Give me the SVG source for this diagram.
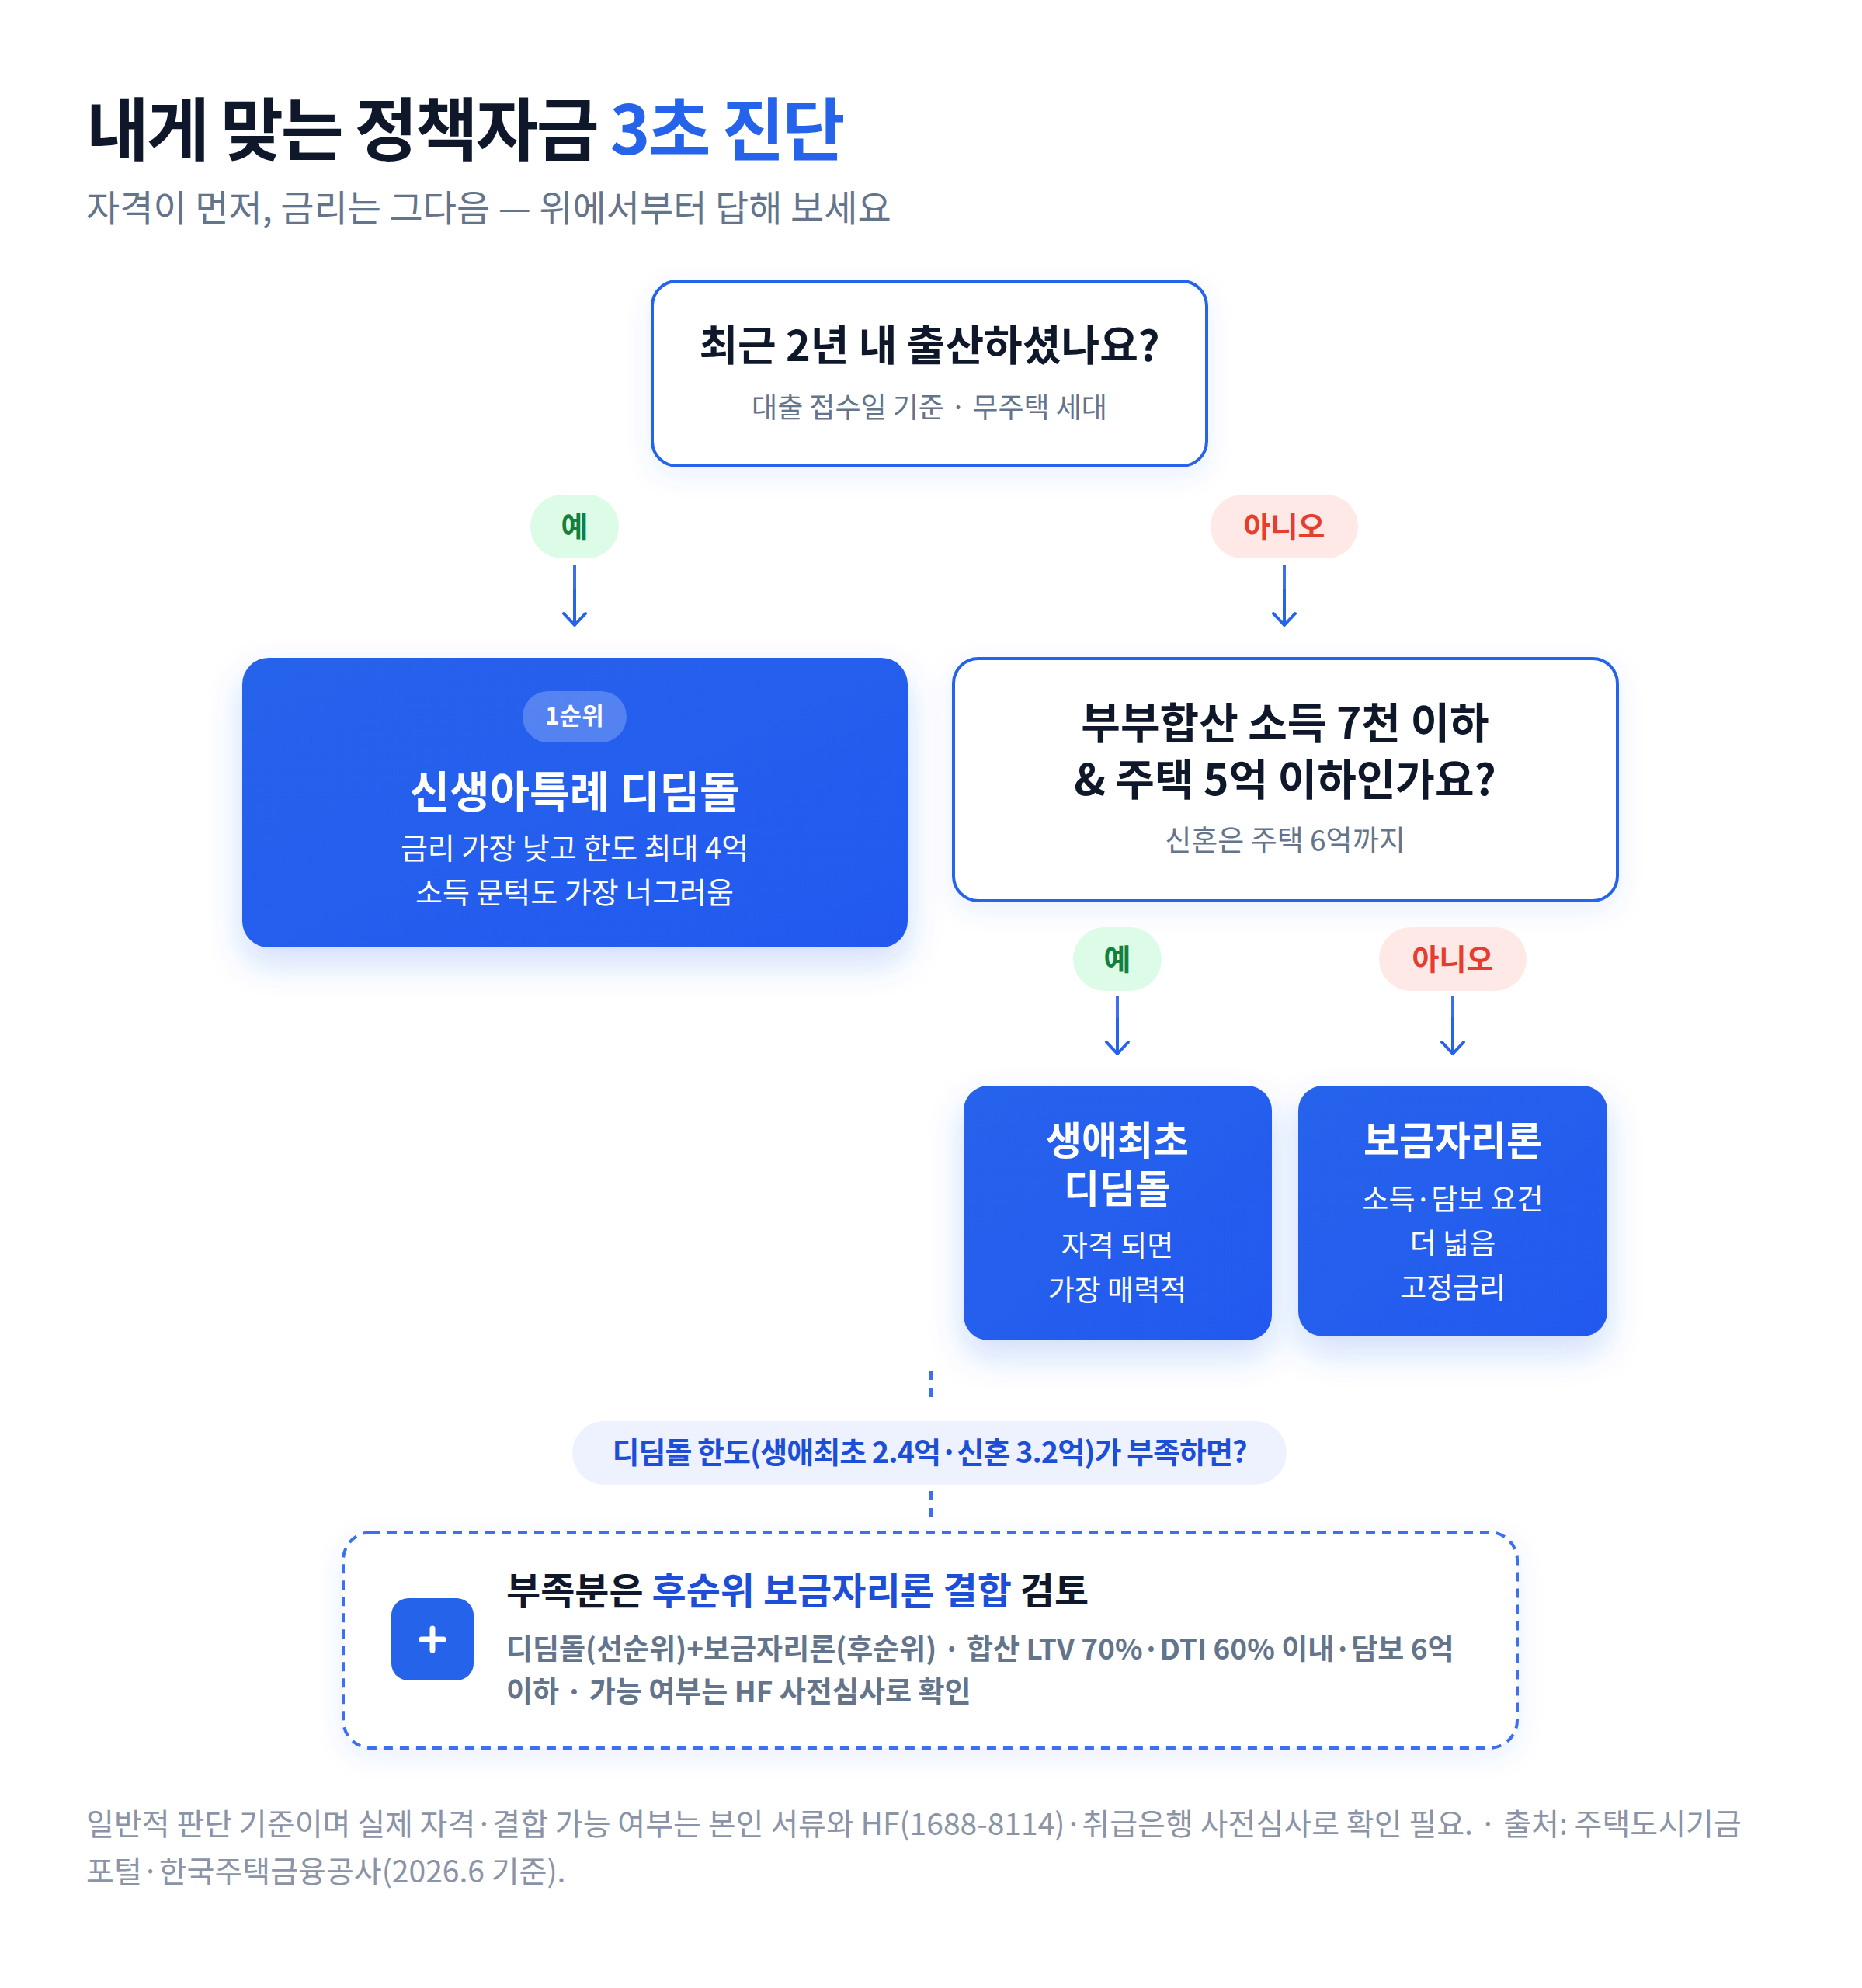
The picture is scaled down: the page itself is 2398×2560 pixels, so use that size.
<svg xmlns="http://www.w3.org/2000/svg" width="2398" height="2560" viewBox="0 0 2398 2560">
<defs>
<style>
text{font-family:"Noto Sans CJK KR","Noto Sans",sans-serif}
.dk{fill:#0F172A;font-weight:700}
.g{fill:#64748B}
.w{fill:#fff}
.c{text-anchor:middle}
.b{font-weight:700}
.conn{stroke:#3B6FF0;stroke-width:4;fill:none}
.arr{stroke:#2563EB;stroke-width:4;fill:none;stroke-linecap:round;stroke-linejoin:round}
</style>
<filter id="sh" x="-20%" y="-20%" width="140%" height="160%"><feDropShadow dx="0" dy="20" stdDeviation="22" flood-color="#2563EB" flood-opacity="0.22"/></filter>
<filter id="sh2" x="-20%" y="-20%" width="140%" height="160%"><feDropShadow dx="0" dy="10" stdDeviation="16" flood-color="#2563EB" flood-opacity="0.1"/></filter>
<linearGradient id="bg" x1="0" y1="0" x2="1" y2="1"><stop offset="0" stop-color="#2563EB"/><stop offset="1" stop-color="#2459F0"/></linearGradient>
</defs>
<rect width="2398" height="2560" fill="#fff"/>
<g id="title">
<text x="111" y="199" font-size="88" class="dk" letter-spacing="-3">내게 맞는 정책자금 <tspan fill="#2563EB">3초 진단</tspan></text>
<text x="111" y="285" font-size="47" class="g">자격이 먼저, 금리는 그다음 — 위에서부터 답해 보세요</text>
</g>
<g id="connectors">
<line class="conn" x1="740" y1="728" x2="740" y2="760"/>
<path class="arr" d="M740 760V805M726 790L740 805L754 790"/>
<line class="conn" x1="1654" y1="728" x2="1654" y2="760"/>
<path class="arr" d="M1654 760V805M1640 790L1654 805L1668 790"/>
<line class="conn" x1="1439" y1="1282" x2="1439" y2="1312"/>
<path class="arr" d="M1439 1312V1357M1425 1342L1439 1357L1453 1342"/>
<line class="conn" x1="1871" y1="1282" x2="1871" y2="1312"/>
<path class="arr" d="M1871 1312V1357M1857 1342L1871 1357L1885 1342"/>
<line class="conn" x1="1199" y1="1765" x2="1199" y2="1805" stroke-dasharray="12 10"/>
<line class="conn" x1="1199" y1="1920" x2="1199" y2="1960" stroke-dasharray="12 10"/>
</g>
<g id="q1">
<rect x="840" y="362" width="714" height="238" rx="32" fill="#fff" stroke="#2563EB" stroke-width="4" filter="url(#sh2)"/>
<text x="1197" y="465" font-size="54" class="dk c">최근 2년 내 출산하셨나요?</text>
<text x="1197" y="538" font-size="36" class="g c">대출 접수일 기준 · 무주택 세대</text>
</g>
<g id="yes1"><rect x="683" y="637" width="114" height="82" rx="41" fill="#DCFCE7"/><text x="740" y="692" font-size="38" class="c b" fill="#15803D">예</text></g>
<g id="no1"><rect x="1559" y="637" width="190" height="82" rx="41" fill="#FEE9E7"/><text x="1654" y="692" font-size="38" class="c b" fill="#E53E2E">아니오</text></g>
<g id="n1">
<rect x="312" y="847" width="857" height="373" rx="34" fill="url(#bg)" filter="url(#sh)"/>
<rect x="673" y="890" width="134" height="66" rx="33" fill="#fff" fill-opacity="0.22"/>
<text x="740" y="933" font-size="31" class="w c b">1순위</text>
<text x="740" y="1040" font-size="56" class="w c b">신생아특례 디딤돌</text>
<text x="740" y="1106" font-size="38" class="w c">금리 가장 낮고 한도 최대 4억</text>
<text x="740" y="1163" font-size="38" class="w c">소득 문턱도 가장 너그러움</text>
</g>
<g id="q2">
<rect x="1228" y="848" width="855" height="312" rx="32" fill="#fff" stroke="#2563EB" stroke-width="4" filter="url(#sh2)"/>
<text x="1655" y="951" font-size="55" class="dk c">부부합산 소득 7천 이하</text>
<text x="1655" y="1024" font-size="55" class="dk c">&amp; 주택 5억 이하인가요?</text>
<text x="1655" y="1096" font-size="37" class="g c">신혼은 주택 6억까지</text>
</g>
<g id="yes2"><rect x="1382" y="1194" width="114" height="82" rx="41" fill="#DCFCE7"/><text x="1439" y="1249" font-size="38" class="c b" fill="#15803D">예</text></g>
<g id="no2"><rect x="1776" y="1194" width="190" height="82" rx="41" fill="#FEE9E7"/><text x="1871" y="1249" font-size="38" class="c b" fill="#E53E2E">아니오</text></g>
<g id="n2">
<rect x="1241" y="1398" width="397" height="328" rx="32" fill="url(#bg)" filter="url(#sh)"/>
<text x="1439" y="1487" font-size="50" class="w c b">생애최초</text>
<text x="1439" y="1549" font-size="50" class="w c b">디딤돌</text>
<text x="1439" y="1618" font-size="37" class="w c">자격 되면</text>
<text x="1439" y="1675" font-size="37" class="w c">가장 매력적</text>
</g>
<g id="n3">
<rect x="1672" y="1398" width="398" height="323" rx="32" fill="url(#bg)" filter="url(#sh)"/>
<text x="1871" y="1487" font-size="50" class="w c b">보금자리론</text>
<text x="1871" y="1558" font-size="37" class="w c">소득·담보 요건</text>
<text x="1871" y="1615" font-size="37" class="w c">더 넓음</text>
<text x="1871" y="1672" font-size="37" class="w c">고정금리</text>
</g>
<g id="cond">
<rect x="737" y="1830" width="920" height="82" rx="41" fill="#EEF2FF"/>
<text x="1197" y="1884" font-size="38" class="c b" fill="#1D4ED8" letter-spacing="-1">디딤돌 한도(생애최초 2.4억·신혼 3.2억)가 부족하면?</text>
</g>
<g id="combo">
<rect x="442" y="1973" width="1512" height="278" rx="36" fill="#fff" stroke="#3B6FF0" stroke-width="4" stroke-dasharray="12 9" filter="url(#sh2)"/>
<rect x="504" y="2058" width="106" height="106" rx="22" fill="#2563EB"/>
<path d="M557 2097V2125M543 2111H571" stroke="#fff" stroke-width="7" stroke-linecap="round"/>
<text x="652" y="2066" font-size="48" class="dk">부족분은 <tspan fill="#1D4ED8">후순위 보금자리론 결합</tspan> 검토</text>
<text x="652" y="2137" font-size="37" class="g" font-weight="600">디딤돌(선순위)+보금자리론(후순위) · 합산 LTV 70%·DTI 60% 이내·담보 6억</text>
<text x="652" y="2192" font-size="37" class="g" font-weight="600">이하 · 가능 여부는 HF 사전심사로 확인</text>
</g>
<g id="footer">
<text x="111" y="2363" font-size="39" fill="#8A94A6">일반적 판단 기준이며 실제 자격·결합 가능 여부는 본인 서류와 HF(1688-8114)·취급은행 사전심사로 확인 필요. · 출처: 주택도시기금</text>
<text x="111" y="2424" font-size="39" fill="#8A94A6">포털·한국주택금융공사(2026.6 기준).</text>
</g>
</svg>
